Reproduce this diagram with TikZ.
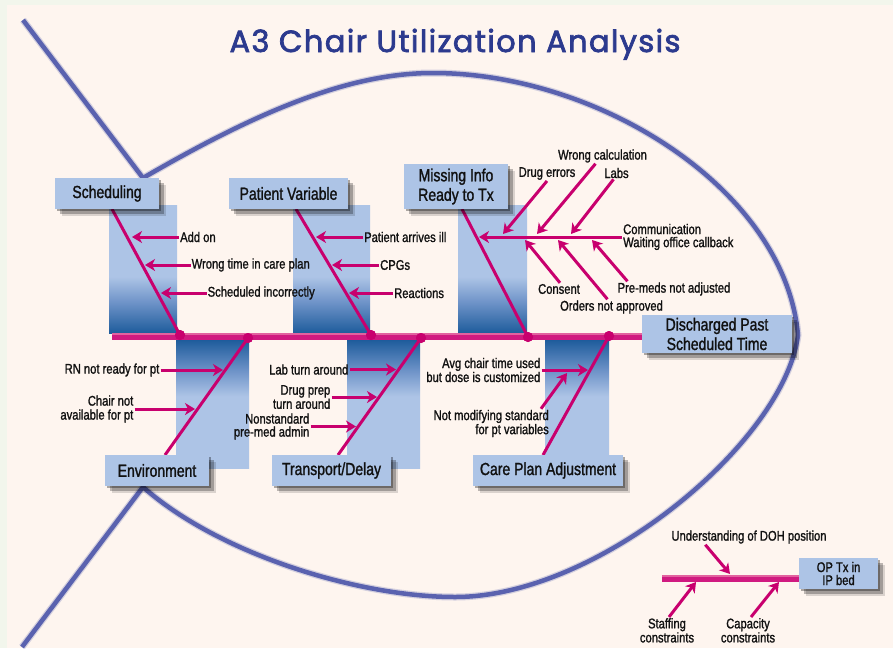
\documentclass[tikz,border=0pt]{standalone}
\usepackage{fontspec}
\setmainfont{Liberation Sans}[FakeStretch=0.8,FakeBold=1.3]
\newfontfamily\titlefont{Poppins}[FakeBold=2.4,LetterSpace=4.5]
\usetikzlibrary{arrows.meta,shadows}
\definecolor{bgout}{HTML}{F2F6EC}
\definecolor{panel}{HTML}{FEF5EF}
\definecolor{fishc}{HTML}{5A62AF}
\definecolor{mag}{HTML}{C8006E}
\definecolor{spinec}{HTML}{D01A80}
\definecolor{spinehl}{HTML}{E2629F}
\definecolor{boxc}{HTML}{ADC4E6}
\definecolor{lightb}{HTML}{ADC4E6}
\definecolor{midb}{HTML}{6E93C8}
\definecolor{darkb}{HTML}{1E5C9C}
\definecolor{titlec}{HTML}{2C3A8E}
\definecolor{txt}{HTML}{111111}
\pgfdeclareverticalshading{upgrad}{100bp}{color(0bp)=(darkb); color(25bp)=(darkb); color(37bp)=(midb); color(47bp)=(lightb); color(100bp)=(lightb)}
\pgfdeclareverticalshading{downgrad}{100bp}{color(0bp)=(lightb); color(53bp)=(lightb); color(63bp)=(midb); color(75bp)=(darkb); color(100bp)=(darkb)}
\tikzset{
  fish/.style={draw=fishc, line width=4.5pt, line join=miter},
  fishglow/.style={draw=fishc, line width=7pt, opacity=0.25},
  spine/.style={draw=spinec, line width=7pt},
  spinehi/.style={draw=spinehl, line width=2pt},
  bone/.style={draw=mag, line width=3pt},
  arr/.style={draw=mag, line width=3pt, -{Stealth[length=10pt,width=12pt,inset=3pt]}},
  jdot/.style={circle, fill=mag, inner sep=0pt, minimum size=10pt},
  boxshadow/.style={
    drop shadow={shadow xshift=2pt, shadow yshift=-2pt, fill=black, opacity=0.32},
    drop shadow={shadow xshift=4.5pt, shadow yshift=-4.5pt, fill=black, opacity=0.26},
    drop shadow={shadow xshift=7pt, shadow yshift=-7pt, fill=black, opacity=0.14}},
  catbox/.style={fill=boxc, inner sep=0pt, minimum height=31pt, text=txt, align=center,
    font=\fontsize{17.5}{19.5}\selectfont, boxshadow},
  lbl/.style={text=txt, inner sep=1pt, font=\fontsize{14}{14}\selectfont},
}
\begin{document}
\begin{tikzpicture}[x=1pt,y=-1pt]
\useasboundingbox (0,0) rectangle (893,648);
\fill[bgout] (0,0) rectangle (893,648);
\fill[panel] (7,5) rectangle (893,648);

% title
\node[anchor=base, text=titlec, inner sep=0pt, font=\titlefont\fontsize{30.5}{30}\selectfont] (title) at (455,52) {A3 Chair Utilization Analysis};

% fish outline
\path[fishglow] (23,20) -- (143,178) .. controls (260,110) and (350,73) .. (433,73)
  .. controls (600,73) and (785,190) .. (798,335)
  .. controls (785,440) and (600,597) .. (455,597)
  .. controls (360,597) and (220,555) .. (143,487) -- (22,647);
\path[fish] (23,20) -- (143,178) .. controls (260,110) and (350,73) .. (433,73)
  .. controls (600,73) and (785,190) .. (798,335)
  .. controls (785,440) and (600,597) .. (455,597)
  .. controls (360,597) and (220,555) .. (143,487) -- (22,647);

% gradient panels
\shade[shading=upgrad] (109,205) rectangle (177,333);
\shade[shading=upgrad] (293,205) rectangle (370,333);
\shade[shading=upgrad] (458,205) rectangle (527,333);
\shade[shading=downgrad] (176,340) rectangle (249,468);
\shade[shading=downgrad] (347,340) rectangle (420,468);
\shade[shading=downgrad] (545,340) rectangle (609,468);

% spine
\path[spine] (112,336) -- (642,336);
\path[spinehi] (112,334) -- (642,334);

% junction dots
\node[jdot] (d1) at (180,335) {};
\node[jdot] (d2) at (248,338) {};
\node[jdot] (d3) at (371,335) {};
\node[jdot] (d4) at (421,338) {};
\node[jdot] (d5) at (528,337) {};
\node[jdot] (d6) at (609,336) {};

% bone ends
\coordinate (b1) at (112,209);
\coordinate (b3) at (296,209);
\coordinate (b5) at (462,209);
\coordinate (b2) at (165,455);
\coordinate (b4) at (338,455);
\coordinate (b6) at (543,455);
\draw[bone] (b1) -- (d1.center);
\draw[bone] (b3) -- (d3.center);
\draw[bone] (b5) -- (d5.center);
\draw[bone] (d2.center) -- (b2);
\draw[bone] (d4.center) -- (b4);
\draw[bone] (d6.center) -- (b6);
\node[jdot] at (d1) {};
\node[jdot] at (d2) {};
\node[jdot] at (d3) {};
\node[jdot] at (d4) {};
\node[jdot] at (d5) {};
\node[jdot] at (d6) {};

% Scheduling causes
\node[lbl, anchor=west] (s1) at (179,237) {Add on};
\node[lbl, anchor=west] (s2) at (190.5,265) {Wrong time in care plan};
\node[lbl, anchor=west] (s3) at (206.5,293) {Scheduled incorrectly};
\coordinate (ts1) at (132,237);
\coordinate (ts2) at (145,265);
\coordinate (ts3) at (161,293);
\draw[arr] (s1.west) -- (ts1);
\draw[arr] (s2.west) -- (ts2);
\draw[arr] (s3.west) -- (ts3);

% Patient Variable causes
\node[lbl, anchor=west] (p1) at (363,237) {Patient arrives ill};
\node[lbl, anchor=west] (p2) at (379,265) {CPGs};
\node[lbl, anchor=west] (p3) at (393,293) {Reactions};
\coordinate (tp1) at (316,237);
\coordinate (tp2) at (332,265);
\coordinate (tp3) at (349,293);
\draw[arr] (p1.west) -- (tp1);
\draw[arr] (p2.west) -- (tp2);
\draw[arr] (p3.west) -- (tp3);

% Missing info causes
\node[lbl, anchor=west, align=left, font=\fontsize{14}{13}\selectfont] (m0) at (622,237) {Communication\\Waiting office callback};
\coordinate (tm0) at (479,237);
\draw[arr] (m0.west) -- (tm0);
\node[lbl] (m1) at (547,173.5) {Drug errors};
\node[lbl] (m2) at (602.5,156) {Wrong calculation};
\node[lbl] (m3) at (616.5,173) {Labs};
\node[lbl] (m4) at (559,289) {Consent};
\node[lbl] (m5) at (611.5,307) {Orders not approved};
\node[lbl] (m6) at (674,289) {Pre-meds not adjusted};
\coordinate (tm1) at (503,234);
\coordinate (tm2) at (537,234);
\coordinate (tm3) at (571,234);
\coordinate (tm4) at (525,240);
\coordinate (tm5) at (558,240);
\coordinate (tm6) at (592,240);
\draw[arr] (m1.south) -- (tm1);
\draw[arr] ([xshift=-7pt]m2.south) -- (tm2);
\draw[arr] ([xshift=-3pt]m3.south) -- (tm3);
\draw[arr] ([xshift=1pt]m4.north) -- (tm4);
\draw[arr] ([xshift=-4pt]m5.north) -- (tm5);
\draw[arr] ([xshift=11pt]m6.north west) -- (tm6);

% Environment causes
\node[lbl, anchor=east] (e1) at (160.5,370) {RN not ready for pt};
\node[lbl, anchor=east, align=right, font=\fontsize{14}{14}\selectfont] (e2) at (134.5,409) {Chair not\\available for pt};
\coordinate (te1) at (223,370);
\coordinate (te2) at (195,409);
\draw[arr] (e1.east) -- (te1);
\draw[arr] (e2.east) -- (te2);

% Transport causes
\node[lbl, anchor=east] (r1) at (349.5,369.5) {Lab turn around};
\node[lbl, anchor=east, align=right, font=\fontsize{14}{12.5}\selectfont] (r2) at (331.5,397) {Drug prep\\turn around};
\node[lbl, anchor=east, align=right, font=\fontsize{14}{13}\selectfont] (r3) at (310.5,426.5) {Nonstandard\\pre-med admin};
\coordinate (tr1) at (396,369.5);
\coordinate (tr2) at (377,397);
\coordinate (tr3) at (356,426.5);
\draw[arr] (r1.east) -- (tr1);
\draw[arr] (r2.east) -- (tr2);
\draw[arr] (r3.east) -- (tr3);

% Care plan causes
\node[lbl, anchor=east, align=right, font=\fontsize{14}{14}\selectfont] (c1) at (541.5,370) {Avg chair time used\\but dose is customized};
\node[lbl, anchor=east, align=right, font=\fontsize{14}{13}\selectfont] (c2) at (550,423.5) {Not modifying standard\\for pt variables};
\coordinate (tc1) at (588,370);
\coordinate (tc2) at (567,373);
\draw[arr] (c1.east) -- (tc1);
\draw[arr] ([xshift=-9pt]c2.north east) -- (tc2);

% category boxes
\node[catbox, minimum width=104pt] (sched) at (107,193.5) {Scheduling};
\node[catbox, minimum width=119pt] (patvar) at (288.5,193.5) {Patient Variable};
\node[catbox, minimum width=104pt, minimum height=45pt] (missing) at (456,186.5) {Missing Info\\Ready to Tx};
\node[catbox, minimum width=104pt] (env) at (157,470.5) {Environment};
\node[catbox, minimum width=119pt] (trans) at (331.5,470.5) {Transport/Delay};
\node[catbox, minimum width=150pt] (care) at (548,470.5) {Care Plan Adjustment};
\node[catbox, minimum width=150pt, minimum height=38pt] (head) at (717,334) {Discharged Past\\Scheduled Time};

% mini fishbone
\path[spine] (662,578) -- (800,578);
\path[spinehi] (662,576) -- (800,576);
\node[catbox, minimum width=79pt, font=\fontsize{14}{13}\selectfont] (optx) at (838.5,573.5) {OP Tx in\\IP bed};
\node[lbl] (u1) at (749,537) {Understanding of DOH position};
\node[lbl, align=center, anchor=north, font=\fontsize{14}{13}\selectfont] (u2) at (667,617) {Staffing\\constraints};
\node[lbl, align=center, anchor=north, font=\fontsize{14}{13}\selectfont] (u3) at (748,617) {Capacity\\constraints};
\coordinate (tu1) at (730,574);
\coordinate (tu2) at (696,582);
\coordinate (tu3) at (779,582);
\draw[arr] ([xshift=35pt]u1.south west) -- (tu1);
\draw[arr] ([xshift=2pt]u2.north) -- (tu2);
\draw[arr] ([xshift=3pt]u3.north) -- (tu3);
\end{tikzpicture}
\end{document}
